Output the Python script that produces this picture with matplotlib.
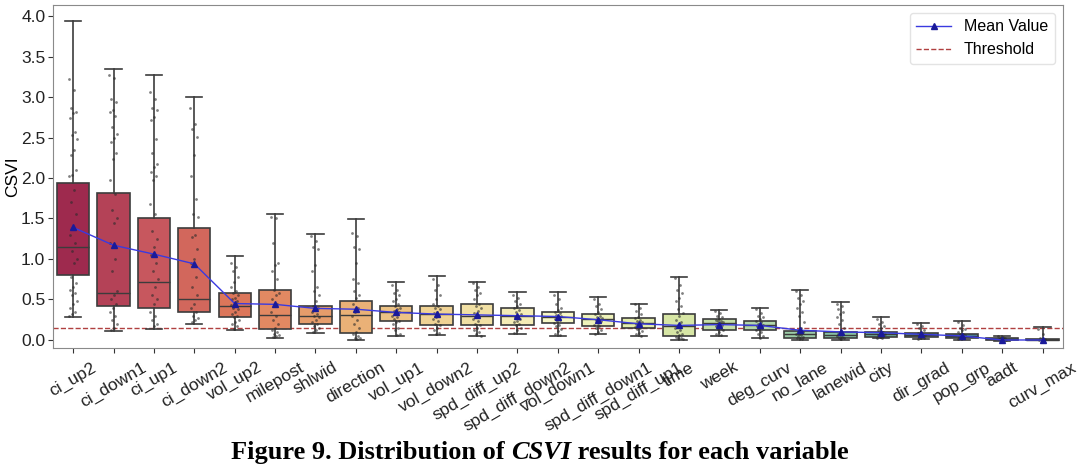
import numpy as np
import matplotlib
matplotlib.use("Agg")
import matplotlib.pyplot as plt
import seaborn as sns

# ---------------- data ----------------
categories = ["ci_up2", "ci_down1", "ci_up1", "ci_down2", "vol_up2", "milepost",
              "shlwid", "direction", "vol_up1", "vol_down2", "spd_diff_up2",
              "spd_diff_down2", "vol_down1", "spd_diff_down1", "spd_diff_up1",
              "time", "week", "deg_curv", "no_lane", "lanewid", "city",
              "dir_grad", "pop_grp", "aadt", "curv_max"]

whisker_low = [0.28, 0.11, 0.14, 0.20, 0.12, 0.03, 0.09, 0.00, 0.05, 0.06, 0.05,
               0.08, 0.05, 0.07, 0.05, 0.00, 0.05, 0.02, 0.00, 0.00, 0.02, 0.01,
               0.00, -0.01, 0.00]
q1_vals = [0.80, 0.42, 0.40, 0.34, 0.28, 0.14, 0.20, 0.09, 0.23, 0.18, 0.19,
           0.19, 0.21, 0.17, 0.15, 0.05, 0.12, 0.12, 0.03, 0.03, 0.04, 0.04,
           0.03, 0.00, 0.00]
median_vals = [1.15, 0.58, 0.72, 0.51, 0.42, 0.31, 0.30, 0.31, 0.34, 0.32, 0.30,
               0.30, 0.29, 0.26, 0.21, 0.17, 0.21, 0.19, 0.07, 0.06, 0.07, 0.06,
               0.05, 0.01, 0.00]
q3_vals = [1.94, 1.82, 1.51, 1.38, 0.58, 0.62, 0.42, 0.48, 0.42, 0.42, 0.44,
           0.40, 0.35, 0.32, 0.27, 0.32, 0.26, 0.24, 0.11, 0.10, 0.10, 0.09,
           0.07, 0.02, 0.01]
whisker_high = [3.94, 3.35, 3.27, 3.00, 1.04, 1.55, 1.31, 1.49, 0.71, 0.79, 0.72,
                0.59, 0.59, 0.53, 0.45, 0.78, 0.37, 0.40, 0.62, 0.47, 0.28, 0.21,
                0.24, 0.05, 0.16]
mean_vals = [1.39, 1.17, 1.06, 0.94, 0.45, 0.44, 0.39, 0.38, 0.34, 0.32, 0.31,
             0.30, 0.29, 0.25, 0.20, 0.18, 0.19, 0.18, 0.12, 0.10, 0.09, 0.07,
             0.05, 0.00, 0.00]
threshold = 0.15

strip_points = [
    [3.22, 3.09, 2.86, 2.82, 2.80, 2.74, 2.57, 2.53, 2.48, 2.35, 2.28, 2.10, 2.04,
     2.02, 1.85, 1.70, 1.55, 1.40, 1.30, 1.20, 1.10, 1.00, 0.95, 0.78, 0.70, 0.66,
     0.62, 0.58, 0.55, 0.48, 0.45, 0.40, 0.35, 0.32, 0.30],
    [3.27, 3.23, 2.98, 2.94, 2.84, 2.82, 2.76, 2.63, 2.54, 2.50, 2.45, 2.31, 2.23,
     1.97, 1.80, 1.60, 1.50, 1.45, 1.20, 1.00, 0.85, 0.60, 0.55, 0.50, 0.45, 0.40,
     0.35, 0.30, 0.25, 0.20, 0.15, 0.12],
    [3.06, 2.98, 2.86, 2.84, 2.75, 2.72, 2.48, 2.31, 2.17, 2.13, 2.07, 2.03, 1.97,
     1.68, 1.55, 1.35, 1.25, 1.15, 1.05, 0.95, 0.85, 0.75, 0.65, 0.55, 0.50, 0.45,
     0.35, 0.30, 0.25, 0.20, 0.17],
    [2.86, 2.67, 2.61, 2.51, 2.28, 2.02, 1.74, 1.55, 1.52, 1.30, 1.27, 1.12, 1.00,
     0.95, 0.78, 0.65, 0.55, 0.45, 0.40, 0.35, 0.30, 0.27, 0.25, 0.22],
    [0.95, 0.90, 0.85, 0.78, 0.72, 0.65, 0.60, 0.58, 0.55, 0.52, 0.50, 0.48, 0.45,
     0.43, 0.42, 0.40, 0.38, 0.35, 0.32, 0.30, 0.28, 0.25, 0.22, 0.20, 0.17, 0.14],
    [1.52, 1.50, 1.20, 0.95, 0.92, 0.85, 0.75, 0.62, 0.58, 0.55, 0.50, 0.45, 0.42,
     0.35, 0.30, 0.25, 0.20, 0.15, 0.12, 0.10, 0.08, 0.06, 0.05, 0.04],
    [1.28, 1.22, 1.15, 1.12, 0.92, 0.85, 0.65, 0.60, 0.55, 0.48, 0.42, 0.40, 0.38,
     0.35, 0.32, 0.30, 0.28, 0.25, 0.22, 0.20, 0.17, 0.15, 0.12, 0.10],
    [1.32, 1.28, 1.15, 1.12, 0.95, 0.75, 0.70, 0.60, 0.55, 0.52, 0.45, 0.40, 0.35,
     0.30, 0.25, 0.20, 0.15, 0.10, 0.08, 0.05, 0.03, 0.02, 0.01],
    [0.68, 0.62, 0.58, 0.55, 0.50, 0.48, 0.45, 0.42, 0.40, 0.38, 0.36, 0.34, 0.32,
     0.30, 0.28, 0.26, 0.24, 0.22, 0.20, 0.15, 0.12, 0.08, 0.06],
    [0.75, 0.68, 0.62, 0.55, 0.50, 0.45, 0.42, 0.40, 0.38, 0.35, 0.33, 0.30, 0.28,
     0.26, 0.23, 0.20, 0.18, 0.15, 0.12, 0.09, 0.07],
    [0.70, 0.66, 0.62, 0.58, 0.55, 0.50, 0.45, 0.42, 0.40, 0.36, 0.33, 0.30, 0.28,
     0.26, 0.24, 0.20, 0.18, 0.15, 0.12, 0.10, 0.07, 0.05],
    [0.56, 0.52, 0.48, 0.45, 0.42, 0.40, 0.37, 0.35, 0.32, 0.30, 0.28, 0.26, 0.24,
     0.22, 0.20, 0.18, 0.15, 0.12, 0.09],
    [0.55, 0.50, 0.45, 0.40, 0.37, 0.35, 0.33, 0.31, 0.30, 0.28, 0.26, 0.25, 0.23,
     0.21, 0.19, 0.17, 0.14, 0.11, 0.08, 0.06],
    [0.50, 0.45, 0.42, 0.38, 0.35, 0.32, 0.30, 0.28, 0.27, 0.26, 0.25, 0.23, 0.21,
     0.19, 0.17, 0.15, 0.12, 0.10, 0.08],
    [0.44, 0.40, 0.36, 0.32, 0.29, 0.27, 0.25, 0.23, 0.22, 0.21, 0.20, 0.19, 0.18,
     0.16, 0.15, 0.13, 0.11, 0.09, 0.07, 0.05],
    [0.76, 0.68, 0.62, 0.58, 0.52, 0.48, 0.42, 0.38, 0.33, 0.30, 0.25, 0.22, 0.18,
     0.15, 0.12, 0.10, 0.08, 0.06, 0.04, 0.03, 0.02, 0.01],
    [0.36, 0.33, 0.30, 0.28, 0.26, 0.25, 0.24, 0.23, 0.22, 0.21, 0.20, 0.19, 0.18,
     0.17, 0.15, 0.13, 0.12, 0.10, 0.08, 0.06],
    [0.38, 0.33, 0.30, 0.28, 0.26, 0.24, 0.22, 0.20, 0.19, 0.18, 0.17, 0.15, 0.13,
     0.12, 0.10, 0.08, 0.05, 0.03],
    [0.60, 0.56, 0.52, 0.48, 0.45, 0.40, 0.35, 0.30, 0.22, 0.15, 0.12, 0.10, 0.08,
     0.07, 0.06, 0.05, 0.04, 0.03, 0.02, 0.01],
    [0.45, 0.42, 0.38, 0.35, 0.32, 0.28, 0.25, 0.20, 0.15, 0.10, 0.08, 0.07, 0.06,
     0.05, 0.04, 0.03, 0.02, 0.01],
    [0.26, 0.22, 0.20, 0.17, 0.15, 0.12, 0.10, 0.09, 0.08, 0.07, 0.06, 0.05, 0.04,
     0.03, 0.02],
    [0.20, 0.17, 0.15, 0.12, 0.10, 0.09, 0.08, 0.07, 0.06, 0.05, 0.04, 0.03, 0.02,
     0.01],
    [0.22, 0.18, 0.15, 0.13, 0.12, 0.10, 0.08, 0.07, 0.06, 0.05, 0.04, 0.03, 0.02,
     0.01],
    [0.05, 0.04, 0.03, 0.02, 0.02, 0.01, 0.01, 0.00, 0.00],
    [0.14, 0.08, 0.02, 0.01, 0.00, 0.00, 0.00],
]

# ---------------- styling ----------------
plt.rcParams["font.family"] = ["Liberation Sans", "DejaVu Sans"]
edge = "#3c3c3c"

n = len(categories)
positions = np.arange(n)
base = sns.color_palette("Spectral", n)
colors = [sns.desaturate(c, 0.75) for c in base]

fig = plt.figure(figsize=(10.8, 4.67), dpi=100)
ax = fig.add_axes([0.049, 0.2548, 0.935, 0.7345])

stats = []
for i in range(n):
    stats.append(dict(label=categories[i], whislo=whisker_low[i], q1=q1_vals[i],
                      med=median_vals[i], q3=q3_vals[i], whishi=whisker_high[i],
                      fliers=[]))
bp = ax.bxp(stats, positions=positions, widths=0.8, patch_artist=True,
            showfliers=False, manage_ticks=False,
            boxprops=dict(edgecolor=edge, linewidth=1.2),
            whiskerprops=dict(color=edge, linewidth=1.2),
            capprops=dict(color=edge, linewidth=1.2),
            medianprops=dict(color=edge, linewidth=1.0))
for patch, c in zip(bp["boxes"], colors):
    patch.set_facecolor(c)
    patch.set_zorder(2)

# strip points (deterministic horizontal jitter)
for i, vals in enumerate(strip_points):
    k = np.arange(len(vals))
    offs = ((k * 0.6180339887) % 1.0 - 0.5) * 0.2
    ax.scatter(positions[i] + offs, vals, s=4, color="#2b2b2b", alpha=0.6,
               linewidths=0, zorder=3)

ax.plot(positions, mean_vals, color="#3a3ae0", lw=1.0, marker="^",
        markersize=4, markerfacecolor="#1a1a9a", markeredgecolor="#1a1a9a",
        zorder=4, label="Mean Value")
ax.axhline(threshold, color="#b04040", ls="--", lw=1.0, zorder=1.5,
           label="Threshold")

ax.set_xlim(-0.5, n - 0.5)
ax.set_ylim(-0.099, 4.136)
ax.set_yticks(np.arange(0, 4.01, 0.5))
ax.set_xticks(positions)
ax.set_xticklabels(categories, rotation=30, ha="center", fontsize=12.5)
ax.tick_params(colors="#333333", length=3.5, width=0.8)
ax.tick_params(axis="y", labelsize=12.5, pad=2)
ax.tick_params(axis="x", pad=5)
ax.set_ylabel("CSVI", fontsize=12.5)
ax.yaxis.set_label_coords(-0.032, 0.5)
for s in ax.spines.values():
    s.set_color("#8a8a8a")
for t in ax.get_xticklabels() + ax.get_yticklabels():
    t.set_color("#222222")

leg = ax.legend(loc="upper right", fontsize=11.5, frameon=True, fancybox=True,
                edgecolor="#dddddd", handlelength=2.2)

# caption with italic CSVI
fig.canvas.draw()
r = fig.canvas.get_renderer()
cap_kw = dict(fontsize=19, fontweight="bold", family=["Liberation Serif", "DejaVu Serif"],
              va="baseline")
parts = [("Figure 9. Distribution of ", "normal"), ("CSVI", "italic"),
         (" results for each variable", "normal")]
texts = []
for s, style in parts:
    t = fig.text(0, 0.018, s, style=style, **cap_kw)
    texts.append(t)
widths = [t.get_window_extent(r).width for t in texts]
total = sum(widths)
x0 = (fig.bbox.width - total) / 2.0
for t, w in zip(texts, widths):
    t.set_x(x0 / fig.bbox.width)
    x0 += w

fig.savefig("out.png", dpi=100)
